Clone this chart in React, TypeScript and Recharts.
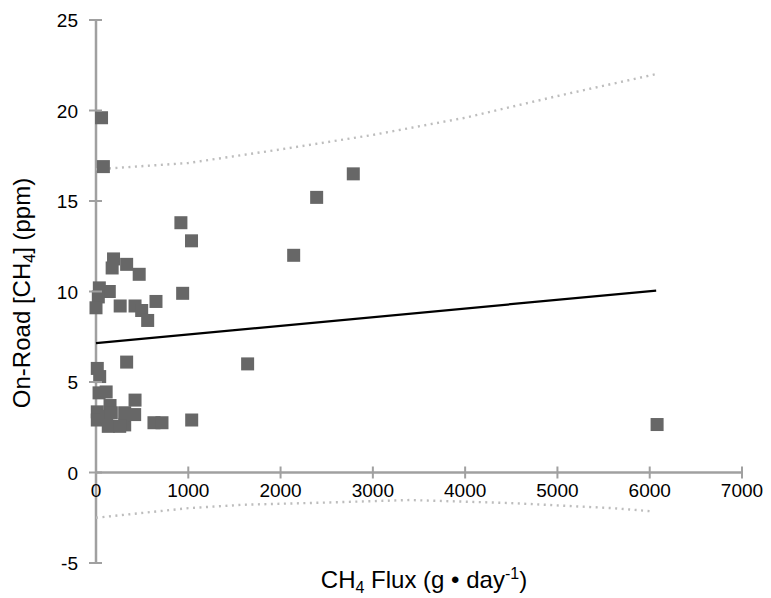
import { ScatterChart, Scatter, XAxis, YAxis, ReferenceLine } from 'recharts'

// measured CH4 flux (g/day) vs on-road concentration (ppm)
const fluxValues = [
  60, 80, 920, 1035, 190, 175, 332, 468, 36, 144,
  25, 0, 262, 423, 495, 560, 650, 939, 332, 1643,
  14, 40, 33, 110, 152, 423, 14, 14, 133, 311,
  311, 419, 628, 715, 1037, 116, 166, 257, 2142, 2391,
  2788, 6080,
]
const ppmValues = [
  19.6, 16.9, 13.8, 12.8, 11.8, 11.3, 11.5, 10.95, 10.2, 10.0,
  9.7, 9.1, 9.2, 9.2, 8.95, 8.4, 9.45, 9.9, 6.1, 6.0,
  5.75, 5.3, 4.4, 4.45, 3.7, 4.0, 3.35, 2.9, 2.55, 3.3,
  2.63, 3.2, 2.75, 2.75, 2.9, 3.1, 3.3, 2.55, 12.0, 15.2,
  16.5, 2.65,
]

// linear fit
const fitX = [0, 6070]
const fitY = [7.15, 10.05]

// prediction band
const upperX = [0, 1000, 2000, 3000, 4000, 5000, 6060]
const upperY = [16.75, 17.1, 17.85, 18.65, 19.6, 20.8, 22.0]
const lowerX = [0, 1000, 1600, 2500, 3400, 4500, 5600, 6040]
const lowerY = [-2.5, -1.97, -1.78, -1.66, -1.52, -1.69, -1.97, -2.15]

const xTicks = [0, 1000, 2000, 3000, 4000, 5000, 6000, 7000]
const yTicks = [-5, 0, 5, 10, 15, 20, 25]

const zip = (xs: number[], ys: number[]) => xs.map((x, i) => ({ x, y: ys[i] }))

const points = zip(fluxValues, ppmValues)
const fitLine = zip(fitX, fitY)
const upperBand = zip(upperX, upperY)
const lowerBand = zip(lowerX, lowerY)

const W = 760
const H = 590
const MARGIN = { top: 12, right: 26, left: 28, bottom: 0 }
const Y_AXIS_W = 60
const X_AXIS_H = 35
const PLOT_LEFT = MARGIN.left + Y_AXIS_W
const PLOT_TOP = MARGIN.top
const PLOT_BOTTOM = H - MARGIN.bottom - X_AXIS_H
const ZERO_Y = PLOT_TOP + ((PLOT_BOTTOM - PLOT_TOP) * 25) / 30

const AXIS_GREY = '#a0a0a0'
const BAND_GREY = '#bdbdbd'
const FONT = '"Liberation Sans", Arial, Helvetica, sans-serif'

function XTick({ x, payload }: any) {
  return (
    <g>
      <line x1={x} x2={x} y1={ZERO_Y - 6} y2={ZERO_Y + 6} stroke={AXIS_GREY} strokeWidth={2} />
      <text x={x} y={ZERO_Y + 24} textAnchor="middle" fontSize={19} fontFamily={FONT} fill="#000">
        {payload.value}
      </text>
    </g>
  )
}

function YTick({ y, payload }: any) {
  return (
    <g>
      <line x1={PLOT_LEFT - 7} x2={PLOT_LEFT + 6} y1={y} y2={y} stroke={AXIS_GREY} strokeWidth={2} />
      <text x={PLOT_LEFT - 18} y={y + 7} textAnchor="end" fontSize={19} fontFamily={FONT} fill="#000">
        {payload.value}
      </text>
    </g>
  )
}

function XTitle() {
  return (
    <text x={416} y={580} textAnchor="middle" fontSize={24} fontFamily={FONT} fill="#000">
      CH
      <tspan dy={5} fontSize={16}>4</tspan>
      <tspan dy={-5}> Flux (g • day</tspan>
      <tspan dy={-9} fontSize={16}>-1</tspan>
      <tspan dy={9}>)</tspan>
    </text>
  )
}

function YTitle() {
  const cx = 22
  const cy = 285
  return (
    <text
      x={cx}
      y={cy}
      transform={`rotate(-90, ${cx}, ${cy})`}
      textAnchor="middle"
      fontSize={24}
      fontFamily={FONT}
      fill="#000"
    >
      On-Road [CH
      <tspan dy={5} fontSize={16}>4</tspan>
      <tspan dy={-5}>] (ppm)</tspan>
    </text>
  )
}

const Square = (p: any) => (
  <rect x={p.cx - 6.5} y={p.cy - 6.5} width={13} height={13} fill="#676767" />
)
const NoDot = () => <g />

export default function App() {
  return (
    <ScatterChart width={W} height={H} margin={MARGIN}>
      <XAxis
        type="number"
        dataKey="x"
        domain={[0, 7000]}
        ticks={xTicks}
        height={X_AXIS_H}
        axisLine={false}
        tickLine={false}
        tick={<XTick />}
        interval={0}
        label={<XTitle />}
      />
      <YAxis
        type="number"
        dataKey="y"
        domain={[-5, 25]}
        ticks={yTicks}
        width={Y_AXIS_W}
        axisLine={{ stroke: AXIS_GREY, strokeWidth: 2.5 }}
        tickLine={false}
        tick={<YTick />}
        interval={0}
        label={<YTitle />}
      />
      <ReferenceLine y={0} stroke={AXIS_GREY} strokeWidth={2.5} />
      <Scatter
        data={upperBand}
        line={{ stroke: BAND_GREY, strokeWidth: 2.4, strokeDasharray: '2 4.5' }}
        shape={NoDot}
        isAnimationActive={false}
      />
      <Scatter
        data={lowerBand}
        line={{ stroke: BAND_GREY, strokeWidth: 2.4, strokeDasharray: '2 4.5' }}
        shape={NoDot}
        isAnimationActive={false}
      />
      <Scatter
        data={fitLine}
        line={{ stroke: '#000', strokeWidth: 2.2 }}
        shape={NoDot}
        isAnimationActive={false}
      />
      <Scatter data={points} shape={Square} isAnimationActive={false} />
    </ScatterChart>
  )
}
